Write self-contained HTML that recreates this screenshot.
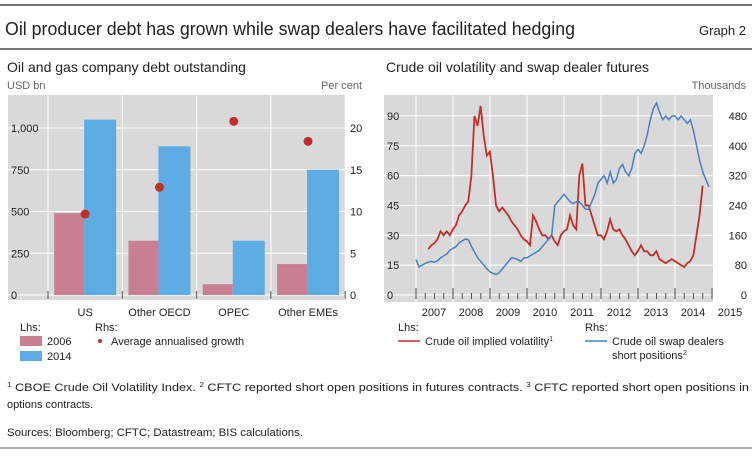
<!DOCTYPE html>
<html><head><meta charset="utf-8"><style>
body{margin:0;background:#fff;width:752px;height:454px;overflow:hidden;font-family:"Liberation Sans",sans-serif}
svg text{font-family:"Liberation Sans",sans-serif}
</style></head><body>
<svg id="s" width="752" height="454" xmlns="http://www.w3.org/2000/svg">
<line x1="0" y1="5" x2="752" y2="5" stroke="#777" stroke-width="2"/>
<text x="5" y="35" font-size="18" fill="#222" textLength="570" lengthAdjust="spacingAndGlyphs">Oil producer debt has grown while swap dealers have facilitated hedging</text>
<text x="746" y="35" font-size="13" fill="#222" text-anchor="end">Graph 2</text>
<line x1="0" y1="49" x2="752" y2="49" stroke="#777" stroke-width="2"/>
<text x="7" y="72" font-size="14" fill="#222">Oil and gas company debt outstanding</text>
<text x="7" y="89" font-size="11" fill="#666">USD bn</text>
<text x="362" y="89" font-size="11" fill="#666" text-anchor="end">Per cent</text>
<text x="386" y="72" font-size="14" fill="#222">Crude oil volatility and swap dealer futures</text>
<text x="746" y="89" font-size="11" fill="#666" text-anchor="end">Thousands</text>
<rect x="8" y="95" width="337" height="205" fill="#d9d9d9"/>
<rect x="384" y="95" width="329" height="207" fill="#d9d9d9"/>
<g id="L"></g><g id="R"></g>
<text x="20" y="331" font-size="11" fill="#222">Lhs:</text>
<rect x="20" y="336" width="22" height="10" fill="#c97f92"/>
<text x="47" y="345" font-size="11" fill="#222">2006</text>
<rect x="20" y="351" width="22" height="10" fill="#5dace4"/>
<text x="47" y="360" font-size="11" fill="#222">2014</text>
<text x="95" y="331" font-size="11" fill="#222">Rhs:</text>
<circle cx="100" cy="341" r="2" fill="#c0302b"/>
<text x="111" y="345" font-size="11" fill="#222">Average annualised growth</text>
<text x="398" y="331" font-size="11" fill="#222">Lhs:</text>
<line x1="398" y1="341" x2="420" y2="341" stroke="#c0302b" stroke-width="1.5"/>
<text x="425" y="345" font-size="11" fill="#222">Crude oil implied volatility<tspan font-size="7" dy="-4">1</tspan></text>
<text x="585" y="331" font-size="11" fill="#222">Rhs:</text>
<line x1="585" y1="341" x2="607" y2="341" stroke="#4a7fc4" stroke-width="1.5"/>
<text x="612" y="345" font-size="11" fill="#222">Crude oil swap dealers</text>
<text x="612" y="359" font-size="11" fill="#222">short positions<tspan font-size="7" dy="-4">2</tspan></text>
<text x="7" y="391" font-size="11" fill="#222" textLength="742" lengthAdjust="spacingAndGlyphs"><tspan font-size="7" dy="-4">1</tspan><tspan dy="4">  CBOE Crude Oil Volatility Index.   </tspan><tspan font-size="7" dy="-4">2</tspan><tspan dy="4">  CFTC reported short open positions in futures contracts.   </tspan><tspan font-size="7" dy="-4">3</tspan><tspan dy="4">  CFTC reported short open positions in</tspan></text>
<text x="7" y="408" font-size="11" fill="#222">options contracts.</text>
<text x="7" y="436" font-size="11" fill="#222" textLength="296" lengthAdjust="spacingAndGlyphs">Sources: Bloomberg; CFTC; Datastream; BIS calculations.</text>
<line x1="0" y1="448" x2="752" y2="448" stroke="#aaa" stroke-width="2"/>
</svg>
<script>
const categories=["US","Other OECD","OPEC","Other EMEs"];
const debt2006=[490,325,65,185];
const debt2014=[1050,890,325,750];
const growth=[9.7,12.9,20.8,18.4];
const leftTicks=[0,250,500,750,1000];
const rightTicks=[0,5,10,15,20];
const volStart=2007.33;
const vol=[23,25,26,28,32,30,32,30,33,35,40,42,45,47,60,90,85,95,80,70,72,60,45,42,44,42,40,37,35,33,30,28,27,25,40,37,33,30,30,28,30,27,25,30,32,33,40,35,33,60,66,45,45,40,35,30,30,28,32,38,33,32,33,30,28,25,22,20,22,25,22,22,20,20,22,18,17,16,17,18,17,16,15,14,16,17,20,30,40,55];
const swapStart=2007.0;
const swap=[95,75,80,85,88,90,88,92,100,105,110,120,125,130,140,145,150,148,130,115,100,90,80,70,62,58,55,60,70,80,90,100,98,95,90,100,100,105,110,115,120,130,140,150,160,240,250,260,270,260,250,245,250,250,240,230,230,250,270,300,310,320,300,330,300,310,340,350,330,320,340,380,390,380,400,430,470,500,515,490,470,480,470,480,480,470,480,470,460,470,440,400,360,330,310,290];
const yearLabels=[2007,2008,2009,2010,2011,2012,2013,2014,2015];
const volTicks=[0,15,30,45,60,75,90];
const swapTicks=[0,80,160,240,320,400,480];
const NS="http://www.w3.org/2000/svg";
function mk(p,t,a){const e=document.createElementNS(NS,t);for(const k in a)e.setAttribute(k,a[k]);p.appendChild(e);return e;}
const L=document.getElementById('L'),R=document.getElementById('R');
const yL=v=>295-v*0.167, yG=v=>295-v*8.35, cx=i=>48+74.3*(i+0.5);
leftTicks.forEach((t,i)=>{const g=mk(L,'line',{x1:8,x2:345,y1:yL(t),y2:yL(t),stroke:'#fff','stroke-width':1});


const tx=mk(L,'text',{x:11,y:yL(t)+4,'font-size':11,fill:'#222'});tx.textContent=t.toLocaleString('en-US');

});
rightTicks.forEach(t=>{const tx=mk(L,'text',{x:350,y:yG(t)+4,'font-size':11,fill:'#222'});tx.textContent=t;

});
for(let i=0;i<=4;i++){const x=48+74.3*i;mk(L,'line',{x1:x,x2:x,y1:95,y2:300,stroke:'#fff'});mk(L,'line',{x1:x,x2:x,y1:291,y2:299,stroke:'#555'});}
categories.forEach((c,i)=>{
const a=mk(L,'rect',{x:cx(i)-31,y:yL(debt2006[i]),width:30,height:295-yL(debt2006[i]),fill:'#c97f92'});


const b=mk(L,'rect',{x:cx(i)-1,y:yL(debt2014[i]),width:32,height:295-yL(debt2014[i]),fill:'#5dace4'});


const d=mk(L,'circle',{cx:cx(i),cy:yG(growth[i]),r:4.5,fill:'#c0302b'});


const t=mk(L,'text',{x:cx(i),y:316,'font-size':11,fill:'#222','text-anchor':'middle'});t.textContent=c;

});
const xR=t=>416+(t-2007)*37, yV=v=>295-v*1.99, yS=v=>295-v*0.3729;
volTicks.forEach((t,i)=>{mk(R,'line',{x1:384,x2:713,y1:yV(t),y2:yV(t),stroke:'#fff'});
const tx=mk(R,'text',{x:387,y:yV(t)+4,'font-size':11,fill:'#222'});tx.textContent=t;


const t2=mk(R,'text',{x:747,y:yS(swapTicks[i])+4,'font-size':11,fill:'#222','text-anchor':'end'});t2.textContent=swapTicks[i];

});
yearLabels.forEach((y,i)=>{const x=xR(y);if(y<2015)mk(R,'line',{x1:x,x2:x,y1:95,y2:302,stroke:'#fff'});
mk(R,'line',{x1:x,x2:x,y1:288,y2:299,stroke:'#555'});
if(y<2015)for(let q=1;q<4;q++)mk(R,'line',{x1:x+q*9.25,x2:x+q*9.25,y1:293,y2:299,stroke:'#555'});
const tx=mk(R,'text',{x:x+18,y:316,'font-size':11,fill:'#222','text-anchor':'middle'});tx.textContent=y;

});
const pv=mk(R,'polyline',{points:vol.map((v,i)=>xR(volStart+i/12)+','+yV(v)).join(' '),fill:'none',stroke:'#c0302b','stroke-width':1.8});


const ps=mk(R,'polyline',{points:swap.map((v,i)=>xR(swapStart+i/12)+','+yS(v)).join(' '),fill:'none',stroke:'#4a7fc4','stroke-width':1.5});


</script>
</body></html>
